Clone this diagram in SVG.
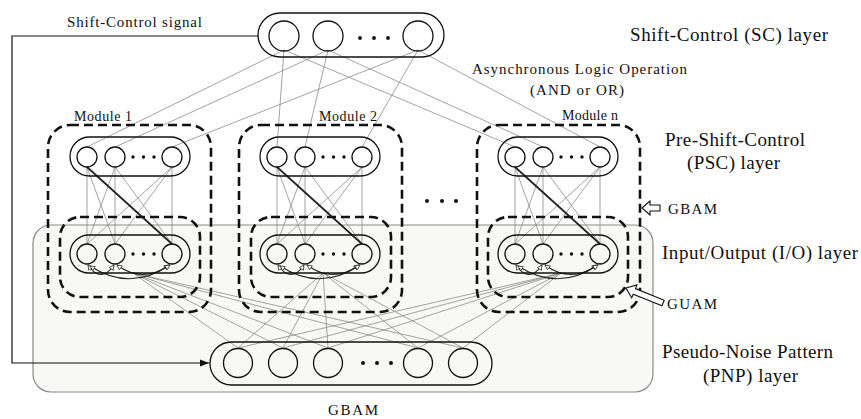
<svg xmlns="http://www.w3.org/2000/svg" width="861" height="419" viewBox="0 0 861 419">
<defs>
<style>
.t{font-family:"Liberation Serif","Times New Roman",serif;fill:#111}
.cap{fill:none;stroke:#111;stroke-width:1.3}
.nd{fill:none;stroke:#111;stroke-width:1.3}
.dash{fill:none;stroke:#111;stroke-width:2.6;stroke-dasharray:9 5}
.g{stroke:#8c8c8c;stroke-width:0.8;fill:none}
.dk{stroke:#222;stroke-width:1.7;fill:none}
.arc{stroke:#222;stroke-width:1.1;fill:none;marker-end:url(#ho);marker-start:url(#hos)}
.dot{fill:#111}
</style>
<marker id="ho" viewBox="0 0 10 10" refX="9" refY="5" markerWidth="6" markerHeight="6" orient="auto" markerUnits="userSpaceOnUse">
<path d="M1,1 L9,5 L1,9 Z" fill="#fff" stroke="#222" stroke-width="1.2"/>
</marker>
<marker id="hos" viewBox="0 0 10 10" refX="1" refY="5" markerWidth="6" markerHeight="6" orient="auto" markerUnits="userSpaceOnUse">
<path d="M9,1 L1,5 L9,9 Z" fill="#fff" stroke="#222" stroke-width="1.2"/>
</marker>
<marker id="fa" viewBox="0 0 10 10" refX="10" refY="5" markerWidth="9" markerHeight="9" orient="auto" markerUnits="userSpaceOnUse">
<path d="M0,1 L10,5 L0,9 Z" fill="#111"/>
</marker>
</defs>
<rect width="861" height="419" fill="#fff"/>

<g id="guam-region">
<rect x="33" y="225" width="620" height="167" rx="18" fill="#f8f8f7" stroke="#8a8a8a" stroke-width="1.2"/>
</g>

<g id="connectors">
<polyline points="258,36 12,36 12,363 209,363" fill="none" stroke="#111" stroke-width="1.2" marker-end="url(#fa)"/>
<g class="g">
<line x1="284" y1="50" x2="87" y2="147"/>
<line x1="284" y1="50" x2="277" y2="147"/>
<line x1="284" y1="50" x2="515" y2="147"/>
<line x1="328" y1="50" x2="115" y2="147"/>
<line x1="328" y1="50" x2="305" y2="147"/>
<line x1="328" y1="50" x2="543" y2="147"/>
<line x1="418" y1="50" x2="172" y2="147"/>
<line x1="418" y1="50" x2="362" y2="147"/>
<line x1="418" y1="50" x2="600" y2="147"/>
</g>
<g class="g">
<line x1="133" y1="273" x2="238" y2="348"/>
<line x1="133" y1="273" x2="283" y2="348"/>
<line x1="133" y1="273" x2="328" y2="348"/>
<line x1="133" y1="273" x2="418" y2="348"/>
<line x1="133" y1="273" x2="463" y2="348"/>
<line x1="323" y1="273" x2="238" y2="348"/>
<line x1="323" y1="273" x2="283" y2="348"/>
<line x1="323" y1="273" x2="328" y2="348"/>
<line x1="323" y1="273" x2="418" y2="348"/>
<line x1="323" y1="273" x2="463" y2="348"/>
<line x1="561" y1="273" x2="238" y2="348"/>
<line x1="561" y1="273" x2="283" y2="348"/>
<line x1="561" y1="273" x2="328" y2="348"/>
<line x1="561" y1="273" x2="418" y2="348"/>
<line x1="561" y1="273" x2="463" y2="348"/>
</g>
<g id="conn-m1">
<g class="g">
<line x1="87" y1="167" x2="87" y2="244"/>
<line x1="87" y1="167" x2="115" y2="244"/>
<line x1="115" y1="167" x2="87" y2="244"/>
<line x1="115" y1="167" x2="115" y2="244"/>
<line x1="115" y1="167" x2="172" y2="244"/>
<line x1="172" y1="167" x2="87" y2="244"/>
<line x1="172" y1="167" x2="115" y2="244"/>
<line x1="172" y1="167" x2="172" y2="244"/>
</g>
<line class="dk" x1="87" y1="167" x2="172" y2="244"/>
<path class="arc" d="M88,265 Q101,284 114,265"/>
<path class="arc" d="M117,265 Q143,284 169,265"/>
<path class="arc" d="M90,266 Q130,292 170,265"/>
</g>
<g id="conn-m2" transform="translate(190,0)">
<g class="g">
<line x1="87" y1="167" x2="87" y2="244"/>
<line x1="87" y1="167" x2="115" y2="244"/>
<line x1="115" y1="167" x2="87" y2="244"/>
<line x1="115" y1="167" x2="115" y2="244"/>
<line x1="115" y1="167" x2="172" y2="244"/>
<line x1="172" y1="167" x2="87" y2="244"/>
<line x1="172" y1="167" x2="115" y2="244"/>
<line x1="172" y1="167" x2="172" y2="244"/>
</g>
<line class="dk" x1="87" y1="167" x2="172" y2="244"/>
<path class="arc" d="M88,265 Q101,284 114,265"/>
<path class="arc" d="M117,265 Q143,284 169,265"/>
<path class="arc" d="M90,266 Q130,292 170,265"/>
</g>
<g id="conn-mn" transform="translate(428,0)">
<g class="g">
<line x1="87" y1="167" x2="87" y2="244"/>
<line x1="87" y1="167" x2="115" y2="244"/>
<line x1="115" y1="167" x2="87" y2="244"/>
<line x1="115" y1="167" x2="115" y2="244"/>
<line x1="115" y1="167" x2="172" y2="244"/>
<line x1="172" y1="167" x2="87" y2="244"/>
<line x1="172" y1="167" x2="115" y2="244"/>
<line x1="172" y1="167" x2="172" y2="244"/>
</g>
<line class="dk" x1="87" y1="167" x2="172" y2="244"/>
<path class="arc" d="M88,265 Q101,284 114,265"/>
<path class="arc" d="M117,265 Q143,284 169,265"/>
<path class="arc" d="M90,266 Q130,292 170,265"/>
</g>
</g>

<g id="sc-layer">
<rect class="cap" x="258" y="13" width="186" height="44" rx="22" fill="#fff"/>
<circle class="nd" cx="284" cy="36" r="15"/>
<circle class="nd" cx="328" cy="36" r="15"/>
<circle class="nd" cx="418" cy="36" r="15"/>
<circle class="dot" cx="360" cy="38" r="1.9"/>
<circle class="dot" cx="374" cy="38" r="1.9"/>
<circle class="dot" cx="388" cy="38" r="1.9"/>
</g>

<g id="module1">
<rect class="dash" x="48" y="125" width="163" height="187" rx="22"/>
<rect class="dash" x="60" y="217" width="140" height="80" rx="20"/>
<g id="m1-psc">
<rect class="cap" x="70" y="137" width="120" height="39" rx="19.5"/>
<circle class="nd" cx="87" cy="157" r="10"/>
<circle class="nd" cx="115" cy="157" r="10"/>
<circle class="nd" cx="172" cy="157" r="10"/>
<circle class="dot" cx="133" cy="157" r="1.7"/>
<circle class="dot" cx="143.5" cy="157" r="1.7"/>
<circle class="dot" cx="154" cy="157" r="1.7"/>
</g>
<g id="m1-io">
<rect class="cap" x="70" y="235" width="120" height="38" rx="19"/>
<circle class="nd" cx="87" cy="254" r="10"/>
<circle class="nd" cx="115" cy="254" r="10"/>
<circle class="nd" cx="172" cy="254" r="10"/>
<circle class="dot" cx="133" cy="254" r="1.7"/>
<circle class="dot" cx="143.5" cy="254" r="1.7"/>
<circle class="dot" cx="154" cy="254" r="1.7"/>
</g>
<text class="t" x="74" y="121" font-size="14" textLength="58" lengthAdjust="spacing">Module 1</text>
</g>

<g id="module2" transform="translate(190,0)">
<rect class="dash" x="49" y="125" width="163" height="187" rx="22"/>
<rect class="dash" x="61" y="217" width="140" height="80" rx="20"/>
<g id="m2-psc">
<rect class="cap" x="70" y="137" width="120" height="39" rx="19.5"/>
<circle class="nd" cx="87" cy="157" r="10"/>
<circle class="nd" cx="115" cy="157" r="10"/>
<circle class="nd" cx="172" cy="157" r="10"/>
<circle class="dot" cx="133" cy="157" r="1.7"/>
<circle class="dot" cx="143.5" cy="157" r="1.7"/>
<circle class="dot" cx="154" cy="157" r="1.7"/>
</g>
<g id="m2-io">
<rect class="cap" x="70" y="235" width="120" height="38" rx="19"/>
<circle class="nd" cx="87" cy="254" r="10"/>
<circle class="nd" cx="115" cy="254" r="10"/>
<circle class="nd" cx="172" cy="254" r="10"/>
<circle class="dot" cx="133" cy="254" r="1.7"/>
<circle class="dot" cx="143.5" cy="254" r="1.7"/>
<circle class="dot" cx="154" cy="254" r="1.7"/>
</g>
<text class="t" x="129" y="121" font-size="14" textLength="58" lengthAdjust="spacing">Module 2</text>
</g>

<g id="modulen" transform="translate(428,0)">
<rect class="dash" x="49" y="125" width="163" height="187" rx="22"/>
<rect class="dash" x="60" y="217" width="140" height="80" rx="20"/>
<g id="mn-psc">
<rect class="cap" x="70" y="137" width="120" height="39" rx="19.5"/>
<circle class="nd" cx="87" cy="157" r="10"/>
<circle class="nd" cx="115" cy="157" r="10"/>
<circle class="nd" cx="172" cy="157" r="10"/>
<circle class="dot" cx="133" cy="157" r="1.7"/>
<circle class="dot" cx="143.5" cy="157" r="1.7"/>
<circle class="dot" cx="154" cy="157" r="1.7"/>
</g>
<g id="mn-io">
<rect class="cap" x="70" y="235" width="120" height="38" rx="19"/>
<circle class="nd" cx="87" cy="254" r="10"/>
<circle class="nd" cx="115" cy="254" r="10"/>
<circle class="nd" cx="172" cy="254" r="10"/>
<circle class="dot" cx="133" cy="254" r="1.7"/>
<circle class="dot" cx="143.5" cy="254" r="1.7"/>
<circle class="dot" cx="154" cy="254" r="1.7"/>
</g>
<text class="t" x="134" y="120" font-size="14" textLength="56" lengthAdjust="spacing">Module n</text>
</g>

<g id="module-ellipsis">
<circle class="dot" cx="427" cy="201" r="2"/>
<circle class="dot" cx="442" cy="201" r="2"/>
<circle class="dot" cx="456" cy="201" r="2"/>
</g>

<g id="pnp-layer">
<rect class="cap" x="210" y="342" width="282" height="43" rx="21.5" fill="#fff"/>
<circle class="nd" cx="238" cy="363" r="14.5"/>
<circle class="nd" cx="283" cy="363" r="14.5"/>
<circle class="nd" cx="328" cy="363" r="14.5"/>
<circle class="nd" cx="418" cy="363" r="14.5"/>
<circle class="nd" cx="463" cy="363" r="14.5"/>
<circle class="dot" cx="363" cy="363" r="2"/>
<circle class="dot" cx="377" cy="363" r="2"/>
<circle class="dot" cx="391" cy="363" r="2"/>
</g>

<g id="gbam-arrow">
<path d="M642,208 L650,201 L650,205 L660,205 L660,211 L650,211 L650,215 Z" fill="#fff" stroke="#111" stroke-width="1.1"/>
</g>
<g id="guam-arrow" transform="translate(626,288) rotate(22)">
<path d="M0,0 L9,-7 L9,-3 L40,-3 L40,3 L9,3 L9,7 Z" fill="#fff" stroke="#111" stroke-width="1.1"/>
</g>

<g id="labels">
<text class="t" x="67" y="27" font-size="15" textLength="135" lengthAdjust="spacing">Shift-Control signal</text>
<text class="t" x="630" y="41" font-size="19" textLength="198" lengthAdjust="spacing">Shift-Control  (SC) layer</text>
<text class="t" x="472" y="74" font-size="15" textLength="215" lengthAdjust="spacing">Asynchronous Logic Operation</text>
<text class="t" x="530" y="95" font-size="15" textLength="94" lengthAdjust="spacing">(AND or OR)</text>
<text class="t" x="665" y="146" font-size="19" textLength="140" lengthAdjust="spacing">Pre-Shift-Control</text>
<text class="t" x="687" y="169" font-size="19" textLength="93" lengthAdjust="spacing">(PSC) layer</text>
<text class="t" x="668" y="214" font-size="15" textLength="49" lengthAdjust="spacing">GBAM</text>
<text class="t" x="662" y="259" font-size="19" textLength="196" lengthAdjust="spacing">Input/Output  (I/O) layer</text>
<text class="t" x="667" y="309" font-size="15" textLength="50" lengthAdjust="spacing">GUAM</text>
<text class="t" x="662" y="358" font-size="19" textLength="171" lengthAdjust="spacing">Pseudo-Noise Pattern</text>
<text class="t" x="703" y="382" font-size="19" textLength="95" lengthAdjust="spacing">(PNP) layer</text>
<text class="t" x="328" y="415" font-size="15" textLength="50" lengthAdjust="spacing">GBAM</text>
</g>
</svg>
